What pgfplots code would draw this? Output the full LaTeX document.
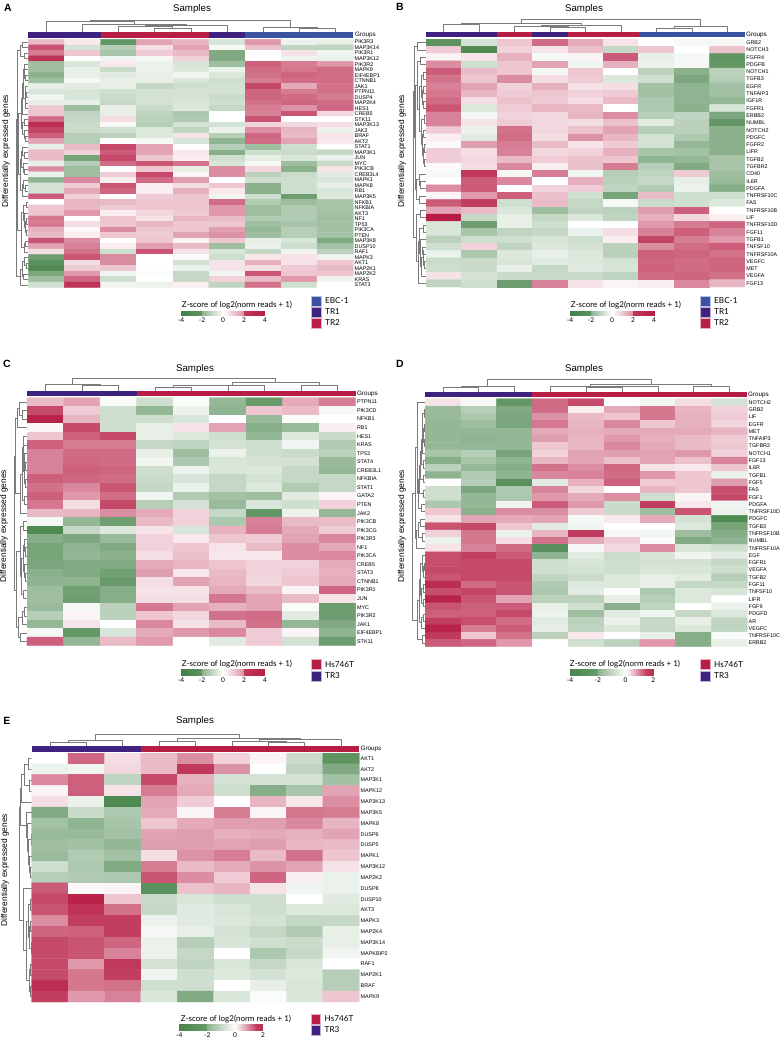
\documentclass[border=0pt]{standalone}
\usepackage{fontspec}
\usepackage{pgfplots}
\pgfplotsset{compat=1.18}
\setmainfont{Liberation Sans}
\newfontfamily\lato{Lato}
\definecolor{cebc}{RGB}{58,82,160}
\definecolor{ctra}{RGB}{63,33,128}
\definecolor{ctrb}{RGB}{184,30,69}
\pgfplotsset{
  colormap={zrg}{rgb255(0)=(61,125,64); rgb255(1)=(255,255,255); rgb255(2)=(183,28,68)},
  den/.style={color=black!52, line width=.45pt, no markers, sharp plot, line join=round},
}
\newcommand{\fs}[1]{\fontsize{#1}{#1}\selectfont}
% dendrogram links, x in column or row units, heights in reference pixels
\newcommand{\tk}[5]{\addplot[den, x filter/.expression={\xo+\cw*(x+.5)}] coordinates {(#1,#2)(#1,#5)(#3,#5)(#3,#4)};}
\newcommand{\lk}[5]{\addplot[den, y filter/.expression={\yo+\rh*(y+.5)}] coordinates {(#2,#1)(#5,#1)(#5,#3)(#4,#3)};}
\newcommand{\gbar}[5]{\addplot[fill=#5, draw=none] coordinates {(#1,#3)(#2,#3)(#2,#4)(#1,#4)} -- cycle;}
\newcommand{\swatch}[5]{\fill[#5, draw=#5!35!white, line width=.4pt] (axis cs:#1,#2) rectangle (axis cs:#3,#4);}
\newcommand{\txt}[4][]{\node[inner sep=0pt, #1] at (axis cs:#2,#3) {#4};}
% heatmap: x0 x1 y0 y1 rows names values
\newcommand{\heat}[7]{%
  \pgfmathsetmacro\hw{#2-#1}\pgfmathsetmacro\hh{#4-#3}\pgfmathsetmacro\lastt{#5-.5}%
  \begin{axis}[scale only axis, anchor=south west, at={(#1pt,-#4pt)}, width=\hw pt, height=\hh pt,
    xmin=0, xmax=9, ymin=0, ymax=#5, y dir=reverse, axis line style={draw=none},
    xtick=\empty, ytick={0.5,1.5,...,\lastt}, yticklabels={#6}, yticklabel pos=right,
    tick style={draw=none}, yticklabel style={font=\fs{5.4}, inner sep=0pt, xshift=1.2pt},
    point meta min=-4, point meta max=4]
  \addplot[matrix plot*, mesh/cols=9, point meta=explicit] table[header=false, row sep=crcr,
    x expr={\coordindex-9*floor((\coordindex+.5)/9)+.5}, y expr={floor((\coordindex+.5)/9)+.5}, meta index=0] {#7};
  \end{axis}}
% colour key: x0 x1 y0 y1 xmax ticks
\newcommand{\ckey}[6]{%
  \pgfmathsetmacro\hw{#2-#1}\pgfmathsetmacro\hh{#4-#3}%
  \begin{axis}[scale only axis, anchor=south west, at={(#1pt,-#4pt)}, width=\hw pt, height=\hh pt,
    xmin=-4, xmax=#5, ymin=0, ymax=1, axis line style={draw=none}, ytick=\empty,
    xtick={#6}, xticklabels={#6}, tick style={draw=none},
    xticklabel style={font=\lato\fs{6.6}, inner sep=0pt, yshift=-2.2pt},
    point meta min=-4, point meta max=4, view={0}{90}]
  \ifdim #5pt>3pt
  \addplot[surf, shader=interp, mesh/rows=2, point meta=explicit] table[row sep=crcr, meta index=2] {x y m\\-4 0 -3.9\\-2.02 0 -3.3\\-2 0 -2.4\\0 0 0\\2 0 2\\2.02 0 3.5\\4 0 4\\-4 1 -3.9\\-2.02 1 -3.3\\-2 1 -2.4\\0 1 0\\2 1 2\\2.02 1 3.5\\4 1 4\\};
  \else
  \addplot[surf, shader=interp, mesh/rows=2, point meta=explicit] table[row sep=crcr, meta index=2] {x y m\\-4 0 -3.8\\-2.05 0 -3.1\\-2 0 -2.4\\0 0 0\\1 0 2.2\\1.5 0 3.4\\2 0 3.7\\-4 1 -3.8\\-2.05 1 -3.1\\-2 1 -2.4\\0 1 0\\1 1 2.2\\1.5 1 3.4\\2 1 3.7\\};
  \fi
  \end{axis}}
\begin{document}
\begin{tikzpicture}
\path[use as bounding box] (0,0) rectangle (780pt,-1037pt);
\begin{axis}[scale only axis, anchor=south west, at={(0pt,-1037pt)}, width=780pt, height=1037pt,
  xmin=0, xmax=780, ymin=0, ymax=1037, y dir=reverse, hide axis, clip=false]
% panel A
\def\xo{28.3}\def\cw{36.1}\def\yo{39.3}\def\rh{5.52}
\gbar{28.3}{100.6}{32.3}{38.3}{ctra}\gbar{100.6}{208.9}{32.3}{38.3}{ctrb}\gbar{208.9}{245}{32.3}{38.3}{ctra}\gbar{245}{353.3}{32.3}{38.3}{cebc}
\tk{3}{32}{4}{32}{28.3}\tk{2}{32}{3.5}{28.3}{26}\tk{2.75}{26}{5}{32}{25.3}\tk{1}{32}{3.875}{25.3}{24}\tk{0}{32}{2.44}{24}{21.7}
\tk{7}{32}{8}{32}{28.3}\tk{6}{32}{7.5}{28.3}{27.3}\tk{1.22}{21.7}{6.75}{27.3}{20.7}
\lk{0}{28}{1}{28}{22.7}\lk{2}{28}{3}{28}{24.5}\lk{.5}{22.7}{2.5}{24.5}{20.7}
\lk{6}{28}{7}{28}{25}\lk{5}{28}{6.5}{25}{24.5}\lk{4}{28}{5.75}{24.5}{24}
\lk{9}{28}{10}{28}{26}\lk{8}{28}{9.5}{26}{25.5}\lk{11}{28}{12}{28}{25.5}\lk{8.75}{25.5}{11.5}{25.5}{25}
\lk{4.9}{24}{10.1}{25}{23}\lk{7.5}{23}{13}{28}{22.5}
\lk{14}{28}{15}{28}{24}\lk{17}{28}{18}{28}{25}\lk{16}{28}{17.5}{25}{24}\lk{14.5}{24}{16.75}{24}{22.5}
\lk{10.25}{22.5}{15.6}{22.5}{21}
\lk{20}{28}{21}{28}{24}\lk{19}{28}{20.5}{24}{22.5}\lk{23}{28}{24}{28}{24}\lk{22}{28}{23.5}{24}{23}\lk{19.75}{22.5}{22.75}{23}{21.5}
\lk{26}{28}{27}{28}{25}\lk{25}{28}{26.5}{25}{23}\lk{25.75}{23}{28}{28}{22}\lk{21.25}{21.5}{26.9}{22}{20}
\lk{12.9}{21}{24}{20}{18.5}
\lk{29}{28}{30}{28}{26}\lk{32}{28}{33}{28}{26}\lk{34}{28}{35}{28}{26}\lk{32.5}{26}{34.5}{26}{25}\lk{31}{28}{33.5}{25}{24.5}\lk{29.5}{26}{32.2}{24.5}{23.5}
\lk{36}{28}{37}{28}{25}\lk{36.5}{25}{38}{28}{24}\lk{30.9}{23.5}{37.2}{24}{21}\lk{18.5}{18.5}{34}{21}{17}
\lk{40}{28}{41}{28}{26}\lk{39}{28}{40.5}{26}{24.5}\lk{42}{28}{43}{28}{23.5}\lk{39.75}{24.5}{42.5}{23.5}{22}\lk{41.1}{22}{44}{28}{20}
\lk{1.5}{20.7}{26.3}{17}{17.3}\lk{13.9}{17.3}{42.5}{20}{16.3}
% panel B
\def\xo{426}\def\cw{35.44}\def\yo{39}\def\rh{7.29}
\gbar{426}{496.9}{31.7}{37.3}{ctra}\gbar{496.9}{532.3}{31.7}{37.3}{ctrb}\gbar{532.3}{567.8}{31.7}{37.3}{ctra}\gbar{567.8}{638.7}{31.7}{37.3}{ctrb}\gbar{638.7}{745}{31.7}{37.3}{cebc}
\tk{0}{31.5}{1}{31.5}{24.3}\tk{3}{31.5}{4}{31.5}{27.3}\tk{2}{31.5}{3.5}{27.3}{26.3}\tk{2.75}{26.3}{5}{31.5}{25.3}\tk{.5}{24.3}{3.875}{25.3}{23.3}
\tk{6}{31.5}{7}{31.5}{28}\tk{6.5}{28}{8}{31.5}{26.3}\tk{2.19}{23.3}{7.25}{26.3}{19.3}
\lk{0}{426}{1}{426}{417.3}\lk{2}{426}{3}{426}{420.7}\lk{4}{426}{5}{426}{423}\lk{6}{426}{7}{426}{423.5}\lk{8}{426}{9}{426}{423}\lk{6.5}{423.5}{8.5}{423}{422}\lk{4.5}{423}{7.5}{422}{421}
\lk{10}{426}{11}{426}{424}\lk{12}{426}{13}{426}{423.5}\lk{14}{426}{15}{426}{424}\lk{16}{426}{17}{426}{424}\lk{14.5}{424}{16.5}{424}{423}\lk{12.5}{423.5}{15.5}{423}{422}\lk{10.5}{424}{14}{422}{421}
\lk{6}{421}{12.2}{421}{419}\lk{2.5}{420.7}{9.1}{419}{417}\lk{19}{426}{20}{426}{420}\lk{18}{426}{19.5}{420}{419.5}\lk{21}{426}{22}{426}{419}\lk{18.75}{419.5}{21.5}{419}{416.5}
\lk{5.8}{417}{20.1}{416.5}{415.5}\lk{.5}{417.3}{13}{415.5}{414.3}
\lk{23}{426}{24}{426}{420}\lk{25}{426}{26}{426}{423}\lk{28}{426}{29}{426}{422}\lk{30}{426}{31}{426}{424}\lk{28.5}{422}{30.5}{424}{423}\lk{29.5}{423}{32}{426}{421.5}\lk{27}{426}{30.7}{421.5}{420}\lk{25.5}{423}{28.9}{420}{419}\lk{27.2}{419}{33}{426}{418}\lk{23.5}{420}{30}{418}{416}\lk{6.7}{414.3}{26.7}{416}{413.3}
% panel C
\def\xo{27}\def\cw{36.52}\def\yo{397.7}\def\rh{8.55}
\gbar{27}{136.6}{390.7}{396}{ctra}\gbar{136.6}{355.7}{390.7}{396}{ctrb}
\tk{3}{390.5}{4}{390.5}{387.3}\tk{3.5}{387.3}{5}{390.5}{385.7}\tk{4.25}{385.7}{6}{390.5}{385}\tk{7}{390.5}{8}{390.5}{385.7}\tk{5.125}{385}{7.5}{385.7}{382.3}
\tk{1}{390.5}{2}{390.5}{385}\tk{0}{390.5}{1.5}{385}{384}\tk{.75}{384}{6.31}{382.3}{378.3}
\lk{1}{27}{2}{27}{22}\lk{0}{27}{1.5}{22}{19.3}\lk{.75}{19.3}{3}{27}{17.7}
\lk{7}{27}{8}{27}{25}\lk{6}{27}{7.5}{25}{24.5}\lk{9}{27}{10}{27}{25}\lk{6.75}{24.5}{9.5}{25}{24}\lk{5}{27}{8.1}{24}{23.5}\lk{4}{27}{6.5}{23.5}{23}\lk{11}{27}{12}{27}{24.5}\lk{5.3}{23}{11.5}{24.5}{22}\lk{8.4}{22}{13}{27}{20}\lk{1.9}{17.7}{10.7}{20}{15}
\lk{14}{27}{15}{27}{23}\lk{17}{27}{18}{27}{25}\lk{16}{27}{17.5}{25}{24.5}\lk{20}{27}{21}{27}{25}\lk{19}{27}{20.5}{25}{24.5}\lk{16.75}{24.5}{19.75}{24.5}{23}\lk{22}{27}{23}{27}{23.5}\lk{18.25}{23}{22.5}{23.5}{21}\lk{14.5}{23}{20.4}{21}{20}
\lk{24}{27}{25}{27}{24}\lk{24.5}{24}{26}{27}{22}\lk{27}{27}{28}{27}{20}\lk{25.2}{22}{27.5}{20}{18.5}\lk{17.5}{20}{26.4}{18.5}{16}\lk{6.3}{15}{22}{16}{14.3}
% panel D
\def\xo{425}\def\cw{35.81}\def\yo{398.7}\def\rh{7.29}
\gbar{425}{532.4}{391.7}{397.3}{ctra}\gbar{532.4}{747.3}{391.7}{397.3}{ctrb}
\tk{0}{391.5}{1}{391.5}{387.7}\tk{.5}{387.7}{2}{391.5}{386.7}\tk{4}{391.5}{5}{391.5}{387.3}\tk{4.5}{387.3}{6}{391.5}{386.7}\tk{3}{391.5}{5.25}{386.7}{386}\tk{7}{391.5}{8}{391.5}{386.7}\tk{4.125}{386}{7.5}{386.7}{384.3}\tk{1.25}{386.7}{5.81}{384.3}{379.3}
\lk{1}{425}{2}{425}{424}\lk{3}{425}{4}{425}{424}\lk{5}{425}{6}{425}{424.3}\lk{3.5}{424}{5.5}{424.3}{423}\lk{1.5}{424}{4.5}{423}{422.5}\lk{3}{422.5}{7}{425}{422}\lk{8}{425}{9}{425}{423}\lk{5}{422}{8.5}{423}{421.5}\lk{10}{425}{11}{425}{423}\lk{6.7}{421.5}{10.5}{423}{420.5}\lk{12}{425}{13}{425}{423}\lk{8.6}{420.5}{12.5}{423}{419.5}\lk{14}{425}{15}{425}{421}\lk{10.5}{419.5}{14.5}{421}{418.5}\lk{0}{425}{12.5}{418.5}{417}
\lk{16}{425}{17}{425}{420}\lk{18}{425}{19}{425}{422}\lk{16.5}{420}{18.5}{422}{418}\lk{17.5}{418}{20}{425}{416}\lk{6.2}{417}{18.7}{416}{415}
\lk{22}{425}{23}{425}{424}\lk{22.5}{424}{24}{425}{423.5}\lk{21}{425}{23.2}{423.5}{422.5}\lk{25}{425}{26}{425}{423}\lk{27}{425}{28}{425}{423}\lk{25.5}{423}{27.5}{423}{421.5}\lk{22.1}{422.5}{26.5}{421.5}{420.5}\lk{29}{425}{30}{425}{423}\lk{29.5}{423}{31}{425}{421.5}\lk{24.3}{420.5}{30.2}{421.5}{419.5}\lk{32}{425}{33}{425}{422}\lk{27.2}{419.5}{32.5}{422}{417}\lk{12.4}{415}{29.9}{417}{412.7}
% panel E
\def\xo{31.7}\def\cw{36.4}\def\yo{753}\def\rh{10.83}
\gbar{31.7}{140.9}{746.3}{752}{ctra}\gbar{140.9}{359.3}{746.3}{752}{ctrb}
\tk{0}{746}{1}{746}{742.3}\tk{.5}{742.3}{2}{746}{740.7}\tk{3}{746}{4}{746}{741}\tk{6}{746}{7}{746}{742.3}\tk{5}{746}{6.5}{742.3}{741.7}\tk{5.75}{741.7}{8}{746}{739.3}\tk{3.5}{741}{6.875}{739.3}{738.3}\tk{1.25}{740.7}{5.19}{738.3}{734.3}
\lk{0}{31.5}{1}{31.5}{28.3}\lk{2}{31.5}{3}{31.5}{29.3}\lk{.5}{28.3}{2.5}{29.3}{24}\lk{1.5}{24}{4}{31.5}{21}
\lk{7}{31.5}{8}{31.5}{31}\lk{10}{31.5}{11}{31.5}{30}\lk{9}{31.5}{10.5}{30}{29.5}\lk{7.5}{31}{9.75}{29.5}{28}\lk{6}{31.5}{8.6}{28}{27}\lk{5}{31.5}{7.3}{27}{26.5}\lk{2.75}{21}{6.2}{26.5}{20}
\lk{13}{31.5}{14}{31.5}{30}\lk{15}{31.5}{16}{31.5}{30}\lk{17}{31.5}{18}{31.5}{31}\lk{15.5}{30}{17.5}{31}{29}\lk{13.5}{30}{16.5}{29}{28}\lk{19}{31.5}{20}{31.5}{30.5}\lk{21}{31.5}{22}{31.5}{30}\lk{19.5}{30.5}{21.5}{30}{29}\lk{15}{28}{20.5}{29}{26.5}\lk{12}{31.5}{17.7}{26.5}{23.5}\lk{4.5}{20}{14.9}{23.5}{19.3}
% texts
\txt[font=\bfseries\fs{10.5}]{8}{8}{A}\txt[font=\bfseries\fs{10.5}]{400}{7}{B}\txt[font=\bfseries\fs{10.5}]{7}{364}{C}\txt[font=\bfseries\fs{10.5}]{400}{364}{D}\txt[font=\bfseries\fs{10.5}]{7}{721}{E}
\txt[font=\fs{9.7}]{192}{9}{Samples}\txt[font=\fs{9.7}]{584}{9}{Samples}\txt[font=\fs{9.7}]{195}{369}{Samples}\txt[font=\fs{9.7}]{584}{369}{Samples}\txt[font=\fs{9.7}]{195}{721}{Samples}
\txt[font=\fs{8.4}, rotate=90]{6}{151}{Differentially expressed genes}\txt[font=\fs{8.4}, rotate=90]{402}{151}{Differentially expressed genes}
\txt[font=\fs{8.4}, rotate=90]{4}{526}{Differentially expressed genes}\txt[font=\fs{8.4}, rotate=90]{402}{526}{Differentially expressed genes}\txt[font=\fs{8.4}, rotate=90]{5}{870}{Differentially expressed genes}
\txt[font=\fs{6.3}, anchor=west]{354.8}{35.3}{Groups}\txt[font=\fs{6.3}, anchor=west]{746}{34.5}{Groups}\txt[font=\fs{6.3}, anchor=west]{356.8}{393.5}{Groups}\txt[font=\fs{6.3}, anchor=west]{748}{394.5}{Groups}\txt[font=\fs{6.3}, anchor=west]{360.5}{749.3}{Groups}
\txt[font=\lato\fs{8}]{237}{305}{Z-score of log2(norm reads + 1)}\txt[font=\lato\fs{8}]{626}{305}{Z-score of log2(norm reads + 1)}
\txt[font=\lato\fs{8}]{237}{664}{Z-score of log2(norm reads + 1)}\txt[font=\lato\fs{8}]{625}{664}{Z-score of log2(norm reads + 1)}\txt[font=\lato\fs{8}]{236}{1019}{Z-score of log2(norm reads + 1)}
% group legends
\swatch{311}{296}{320.7}{305.7}{cebc}\swatch{311}{307}{320.7}{316.7}{ctra}\swatch{311}{318.3}{320.7}{328}{ctrb}
\txt[font=\lato\fs{8.2}, anchor=west]{325}{300.8}{EBC-1}\txt[font=\lato\fs{8.2}, anchor=west]{325}{311.8}{TR1}\txt[font=\lato\fs{8.2}, anchor=west]{325}{323}{TR2}
\swatch{700}{296}{710}{305.7}{cebc}\swatch{700}{307}{710}{316.7}{ctra}\swatch{700}{318.3}{710}{328}{ctrb}
\txt[font=\lato\fs{8.2}, anchor=west]{714}{300.8}{EBC-1}\txt[font=\lato\fs{8.2}, anchor=west]{714}{311.8}{TR1}\txt[font=\lato\fs{8.2}, anchor=west]{714}{323}{TR2}
\swatch{311}{659.3}{321}{669}{ctrb}\swatch{311}{671}{321}{681}{ctra}
\txt[font=\lato\fs{8.2}, anchor=west]{325}{664.2}{Hs746T}\txt[font=\lato\fs{8.2}, anchor=west]{325}{676}{TR3}
\swatch{700}{659.3}{710}{669}{ctrb}\swatch{700}{671}{710}{681}{ctra}
\txt[font=\lato\fs{8.2}, anchor=west]{714}{664.2}{Hs746T}\txt[font=\lato\fs{8.2}, anchor=west]{714}{676}{TR3}
\swatch{310.7}{1014}{320.5}{1024}{ctrb}\swatch{310.7}{1025}{320.5}{1035}{ctra}
\txt[font=\lato\fs{8.2}, anchor=west]{324.5}{1019}{Hs746T}\txt[font=\lato\fs{8.2}, anchor=west]{324.5}{1030}{TR3}
\end{axis}
\heat{28.3}{353.3}{39.3}{287.7}{45}{PIK3R3,MAP3K14,PIK3R1,MAP3K12,PIK3R2,MAPK9,EIF4EBP1,CTNNB1,JAK1,PTPN11,DUSP4,MAP2K4,HES1,CREB5,STK11,MAP3K13,JAK2,BRAF,AKT2,STAT1,MAP3K1,JUN,MYC,PIK3CB,CREB3L4,MAPK1,MAPK8,RB1,MAP3K5,NFKB1,NFKBIA,AKT3,NF1,TP53,PIK3CA,PTEN,MAP3K8,DUSP10,RAF1,MAPK3,AKT1,MAP2K1,MAP2K2,KRAS,STAT3}{%
1.2\\.4\\-3.2\\1.6\\1.3\\-.8\\1.8\\-.4\\-.5\\%
3\\-.9\\-1.5\\.6\\1.6\\-.2\\1.1\\-1.3\\-1.3\\%
2.3\\1\\-1.8\\.9\\1.2\\-2.6\\.05\\.5\\-.3\\%
3.6\\0\\-.3\\-.2\\.8\\-2.6\\0\\-.3\\-.4\\%
-2\\-.8\\.4\\-.4\\-.8\\-2\\2.8\\2.3\\1.8\\%
-2\\-.5\\-1.1\\-.4\\-.7\\-.4\\2.6\\2.4\\2.6\\%
-2.4\\-.5\\-.6\\-.5\\-.3\\-.7\\2.5\\2.7\\2.6\\%
-2\\-.2\\-.5\\-.5\\-.8\\-1\\2.3\\2.6\\2.6\\%
-.5\\-.6\\-.5\\-1.2\\-1\\-.9\\3.2\\1.5\\2.5\\%
-.8\\-.8\\-1\\-.9\\-.9\\-.9\\2.7\\2.3\\2.5\\%
-.3\\-.8\\-1.1\\-.9\\-.9\\-1.1\\2.7\\2.6\\2.3\\%
-.5\\-.5\\-1.2\\-.9\\-.8\\-1\\2.5\\2.7\\2.6\\%
1\\-2\\-.5\\-1.1\\-.7\\-1.2\\2.3\\1.9\\2.7\\%
1\\-1.3\\-.5\\-1.3\\-1.7\\0\\2.2\\3\\.7\\%
2.6\\-1.2\\.6\\-1.4\\-1.6\\0\\3\\0\\0\\%
3.7\\-1.1\\-.2\\-1.5\\-.9\\-.9\\.8\\.7\\.6\\%
3.3\\-1.1\\-1\\-.7\\-1.3\\-.4\\2\\1.3\\-.4\\%
2.8\\-1.5\\-1.4\\-.7\\.5\\-1.5\\2.7\\1.2\\.5\\%
1.6\\-1.5\\0\\-.2\\-.8\\-2.3\\2.6\\1.6\\.4\\%
-.5\\1.2\\3.2\\1.6\\.05\\-1.5\\-2\\-1\\0\\%
1.2\\.8\\2.9\\1.6\\.4\\-2.5\\-1\\-1.1\\-1.2\\%
1.2\\-2.8\\3.2\\1\\.3\\-1\\-.5\\-.8\\-.4\\%
-.5\\-1.5\\2.6\\3\\2.5\\-.8\\-.2\\-2\\-1.1\\%
2\\-2\\0\\1\\-.5\\2\\.7\\-2.4\\.5\\%
-.4\\-2\\.9\\3.2\\.2\\2\\-1.4\\-1.1\\-.6\\%
-2.3\\2.1\\.3\\2.6\\1.7\\0\\-1\\-1\\-.8\\%
-.9\\.9\\3\\.3\\.6\\1\\-2.4\\-1\\-.5\\%
-.9\\1.5\\2.7\\.3\\1.4\\.4\\-2.4\\-1\\-.8\\%
2.9\\.8\\.05\\.9\\1\\-.3\\-1\\-3\\-.7\\%
0\\1.3\\1.2\\1\\1\\2.6\\-1.6\\-2\\-1.8\\%
1\\1.3\\.9\\1\\1\\1.8\\-2\\-1.6\\-1.8\\%
1\\1.8\\.3\\.7\\.9\\1.8\\-2\\-1.6\\-1.9\\%
2.4\\0\\1\\.5\\1.3\\1.2\\-1.6\\-1.6\\-2\\%
2.4\\.6\\1\\1.3\\1\\1\\-2\\-1.8\\-1.9\\%
1.4\\.1\\2\\1\\1\\1.7\\-2.2\\-1.5\\-1.9\\%
1.2\\.3\\1\\.9\\1.6\\1.9\\-2\\-1.5\\-1.9\\%
3\\2\\0\\1\\.2\\1\\-.5\\-.8\\-2.6\\%
1.6\\2.2\\.3\\1.7\\1.2\\-2\\-.4\\-1\\-1.9\\%
.6\\2.5\\-1\\3\\.5\\-.8\\-1.2\\-.3\\-1.4\\%
-3\\3\\2\\0\\-.1\\-1\\.4\\.5\\-.3\\%
-3.4\\.6\\2\\0\\-.9\\.5\\1.4\\.5\\1\\%
-3.6\\.9\\1\\0\\-.4\\.5\\.6\\.9\\1.2\\%
-2.7\\1.8\\-.3\\-.1\\-1.2\\-.3\\3\\1\\1\\%
-2\\2.7\\-1\\0\\-1.2\\.8\\1.2\\1.8\\-.3\\%
-1\\3.6\\-.3\\-.4\\.3\\-1.3\\2.5\\-1\\0\\%
}
\heat{426}{745}{39}{287}{34}{GRB2,NOTCH3,FGFR4,PDGFB,NOTCH1,TGFB3,EGFR,TNFAIP3,IGF1R,FGFR1,ERBB2,NUMBL,NOTCH2,PDGFC,FGFR2,LIFR,TGFB2,TGFBR2,CD40,IL6R,PDGFA,TNFRSF10C,FAS,TNFRSF10B,LIF,TNFRSF10D,FGF11,TGFB1,TNFSF10,TNFRSF10A,VEGFC,MET,VEGFA,FGF13}{%
-3.3\\-.9\\1\\2.6\\1.5\\.5\\0\\-.2\\-.2\\%
.9\\-3.6\\.8\\.5\\1.1\\-1.2\\1\\0\\1.1\\%
.2\\.5\\1.4\\-.2\\.2\\2.9\\-.5\\-.2\\-3.3\\%
2\\-1\\1\\1.6\\-.3\\1.4\\-.4\\-.2\\-3.2\\%
2.9\\1.2\\1\\-.2\\1\\0\\-1.4\\-2.4\\-1.4\\%
2.5\\1\\2\\.6\\.9\\-.7\\-1\\-2.7\\-1.5\\%
2.2\\1.6\\.8\\1.4\\.5\\.6\\-1.9\\-2.3\\-1.9\\%
2.4\\1.3\\.9\\1\\.8\\.9\\-1.9\\-2.3\\-1.9\\%
2.6\\.6\\1.1\\.9\\.6\\1.2\\-1.7\\-2.3\\-2.2\\%
3\\-.7\\.9\\1.3\\1.2\\0\\-1.7\\-2.4\\-.8\\%
2.2\\-.2\\.8\\.7\\1.3\\2\\-1.5\\-1.3\\-2.7\\%
2.2\\.5\\.9\\.7\\.6\\1.1\\-.6\\-1.4\\-3.2\\%
.9\\-.4\\2.5\\.7\\1.1\\1.6\\-1.5\\-1.4\\-2.4\\%
.3\\-.6\\2.6\\.6\\1.9\\1.3\\-.9\\-1.7\\-2.4\\%
.1\\1.7\\2.3\\1.2\\.5\\.9\\-.9\\-2.2\\-2.4\\%
.9\\.6\\2.2\\.7\\.8\\1.4\\-1.8\\-1.9\\-2.4\\%
.9\\.7\\1.2\\.9\\1.1\\1\\-2.3\\-2.2\\-1.8\\%
.1\\.6\\2.1\\.3\\1.1\\2.3\\-1.5\\-2.6\\-1.8\\%
-.2\\3.5\\-.2\\2.3\\-.3\\-1.5\\-1.3\\.9\\-2\\%
0\\2.9\\2.1\\0\\1.4\\-1.4\\-1.2\\-.5\\-2.1\\%
2\\2.9\\0\\.8\\.9\\-1.3\\-1.6\\-.4\\-2.5\\%
.2\\1.8\\2.8\\1.1\\-1\\-2.8\\1.2\\-1\\-1\\%
2.9\\3.4\\-1\\1.2\\-1.2\\-.2\\-1.1\\-1\\-.7\\%
1.6\\1.2\\-.8\\-2\\-1.3\\-1.4\\1.7\\2.8\\0\\%
4\\-1.2\\-.5\\-1.2\\-.7\\-1.3\\1.4\\.7\\.3\\%
-.8\\-3\\-.5\\-1\\0\\0\\1.8\\2.3\\2.7\\%
-.8\\-1.8\\-1.3\\-1.2\\-.4\\.6\\2.2\\2.8\\2.2\\%
-1.4\\-1\\-1\\-.8\\-1\\.3\\3.3\\2.3\\1.8\\%
-1\\.8\\-1.3\\-.7\\-.9\\-1.4\\2\\2.6\\2.9\\%
-.4\\-1.7\\-.7\\-.5\\-.7\\-1.4\\2.8\\2.7\\2.5\\%
-1.1\\-1.1\\-.8\\-.6\\-.7\\-.9\\2.7\\2.6\\2.7\\%
-1\\-1.1\\-.5\\-1.2\\-.6\\-.8\\2.8\\2.6\\2.7\\%
.5\\-.9\\-1.1\\-1.1\\-1.1\\-1.3\\2.6\\2.7\\2.5\\%
-1.3\\-1\\-3\\2.2\\.5\\.2\\.3\\2.1\\1.3\\%
}
\heat{27}{355.7}{397.7}{645.7}{29}{PTPN11,PIK3CD,NFKB1,RB1,HES1,KRAS,TP53,STAT4,CREB3L1,NFKBIA,STAT1,GATA2,PTEN,JAK2,PIK3CB,PIK3CG,PIK3R3,NF1,PIK3CA,CREB5,STAT3,CTNNB1,PIK3R1,JUN,MYC,PIK3R2,JAK1,EIF4EBP1,STK11}{%
1.2\\1.6\\-.1\\-1\\-.1\\-2.2\\-3.1\\1.5\\2.3\\%
3.2\\.9\\-1\\-2.2\\-.4\\-2.3\\1\\1.2\\-.2\\%
3.9\\1.3\\-1\\-1\\-.8\\0\\-2.1\\-.1\\0\\%
.2\\3.2\\-1\\-.5\\.5\\1.6\\-2.5\\-2.1\\.3\\%
1\\2.8\\3.2\\-.5\\-.7\\-1\\-2.2\\-.7\\-1.1\\%
2.8\\2.3\\2.3\\-1.2\\-1.3\\-.9\\-1\\-.3\\-1.6\\%
2.2\\2.6\\2.6\\-.5\\-2\\-.4\\-1\\-1.1\\-1.4\\%
2.2\\2.7\\2.6\\-.3\\-1.7\\-.8\\-.9\\-.9\\-2.1\\%
2.2\\2.8\\2.7\\-1\\-.4\\-.8\\-.7\\-1.2\\-2.2\\%
2.8\\2.7\\2.6\\-1.1\\-.8\\-1.2\\-.9\\-1.2\\-1.2\\%
2.5\\2.1\\3\\-1.2\\-.4\\-1.2\\-.7\\-1.6\\-1.2\\%
2.8\\1.8\\2.6\\-.3\\-1.6\\-1.9\\-2\\-.6\\.2\\%
2.4\\.6\\3.2\\-1.5\\-.9\\-2.1\\-.8\\-1\\.8\\%
1.2\\1.3\\2\\1.5\\.8\\-1.2\\-3.2\\-.4\\-2.2\\%
-.2\\-2.2\\-3\\1.2\\.8\\-1.7\\2.2\\1.2\\1.2\\%
-3.6\\-1.2\\-.7\\.5\\-.8\\1.4\\2.3\\1.5\\.9\\%
-2.5\\-2.7\\-2.1\\.8\\.4\\1\\.9\\1.6\\2.1\\%
-2.8\\-2.3\\-2.6\\.8\\1\\.5\\1.2\\2\\1.5\\%
-2.8\\-2.2\\-2.4\\.6\\1.1\\.4\\.4\\2\\2.1\\%
-2.7\\-2.6\\-2.6\\1.5\\1.3\\1\\.8\\.8\\1.5\\%
-2.4\\-2.6\\-2.9\\1.7\\.4\\1.2\\.8\\.9\\1.4\\%
-2.3\\-2.3\\-3.1\\.6\\1.6\\1.3\\.7\\1\\1.5\\%
-2\\-2.9\\-2.5\\.5\\.5\\1.5\\1.2\\.2\\2.7\\%
-2\\-3\\-2.5\\.6\\.6\\2.4\\1.6\\1.2\\.5\\%
-2.1\\-.2\\-1.4\\2.4\\1.6\\1.4\\1.6\\-.1\\-3\\%
-1.5\\.2\\-1.4\\1\\.7\\2.5\\2.6\\-.6\\-3\\%
-2.2\\.5\\0\\2.1\\.5\\1.2\\2.5\\-2.2\\-2.6\\%
-.2\\-3.2\\-.8\\1.5\\1.8\\2.1\\.9\\.2\\-2.3\\%
2.8\\-2.2\\1.2\\1.8\\0\\-.6\\.9\\-.9\\-3\\%
}
\heat{425}{747.3}{398.7}{646.7}{34}{NOTCH2,GRB2,LIF,EGFR,MET,TNFAIP3,TGFBR2,NOTCH1,FGF13,IL6R,TGFB1,FGF5,FAS,FGF1,PDGFA,TNFRSF10D,PDGFC,TGFB3,TNFRSF10B,NUMBL,TNFRSF10A,EGF,FGFR1,VEGFA,TGFB2,FGF11,TNFSF10,LIFR,FGF9,PDGFD,AR,VEGFC,TNFRSF10C,ERBB2}{%
.5\\-.2\\-3.2\\2.6\\3.2\\0\\-.3\\.6\\-.9\\%
-2.1\\-1.5\\-2.6\\2.6\\.3\\1.5\\2.4\\1.3\\.8\\%
-2.1\\-1.7\\-2.7\\1.9\\1.2\\1\\2.4\\1.4\\.9\\%
-2.2\\-2\\-2.7\\2.4\\1.3\\2.1\\1\\1.4\\.7\\%
-2.2\\-2.2\\-2.2\\1.5\\1.4\\1.5\\1.5\\1.5\\1.3\\%
-2.2\\-2.3\\-2.2\\1.7\\1.3\\1.8\\1.4\\1.2\\.9\\%
-2.2\\-2.2\\-2.2\\1\\1.3\\2.1\\1.5\\1.2\\1\\%
-1.8\\-1.5\\-2.8\\.8\\1.6\\1.7\\1.6\\1.8\\.8\\%
-2.5\\-1.8\\-2.3\\1.3\\1.6\\1.1\\1.6\\1.1\\2.2\\%
-1.4\\-2.2\\-2.5\\2.5\\2\\2.7\\.5\\.4\\1\\%
-2.3\\-1.6\\-2.3\\2.1\\2.2\\2.6\\1.8\\1\\-.4\\%
0\\-1.5\\-3.4\\-.6\\1.4\\2.8\\.9\\1\\1.7\\%
-1\\-2.7\\-1.7\\2.2\\.7\\0\\1.3\\1\\3.1\\%
-1\\-2.2\\-1.7\\1.8\\1.5\\2\\-1\\.2\\3.2\\%
-1.7\\-2.2\\-.3\\2.9\\1.8\\-1.1\\3.4\\.4\\-.3\\%
1\\-2.4\\2\\2\\.9\\-1.1\\-2\\3\\-.4\\%
.5\\1.6\\1.5\\1.6\\-.2\\.4\\1.5\\-.9\\-3.6\\%
3\\3.2\\1\\-.6\\-.3\\0\\0\\-.7\\-2.8\\%
.8\\2.4\\-.4\\1.3\\3.5\\-.2\\-.3\\-2\\-2.5\\%
-.4\\2.4\\.6\\2.5\\1.5\\.9\\-.1\\-2.6\\-2.3\\%
.5\\2.2\\2.6\\-3.4\\-.2\\.7\\2\\-.8\\-1\\%
3.1\\3.4\\2.9\\-2.3\\-.6\\-1.1\\-.8\\-.3\\-.6\\%
3.1\\3.2\\3.2\\-1\\-.8\\-1\\-.9\\-.9\\-1.2\\%
3.2\\3.2\\3.2\\-1\\-.9\\-1\\-.8\\-.8\\-1\\%
3\\3.2\\3.2\\-1.3\\-1.1\\-.7\\-.5\\-.6\\-1.5\\%
3.7\\2.6\\3\\-1.6\\-.7\\-.7\\-.5\\-1.2\\-1.2\\%
3.1\\3.3\\3\\-1.7\\-.6\\-.1\\-1.7\\-.7\\-.8\\%
3.9\\3\\1.6\\-1.4\\-1.4\\-.5\\-1.5\\-.7\\0\\%
3\\2.8\\2.9\\-.5\\-1\\-2.4\\-1.3\\0\\-.4\\%
2.8\\2.8\\3.2\\-.4\\-2\\-.6\\-.3\\-1.2\\-.7\\%
3.4\\3.1\\2.6\\-.6\\-1.4\\-.4\\-1.2\\-.5\\-1.3\\%
3.9\\2.3\\2.9\\-.5\\-1.3\\-.7\\-1.2\\-.7\\-1.3\\%
3.5\\1\\2.5\\-1.4\\.4\\0\\-.5\\-2.5\\-.1\\%
2.9\\2.7\\1.8\\0\\-1\\-1.4\\1.8\\-2.5\\-.5\\%
}
\heat{31.7}{359.3}{753}{1002}{23}{AKT1,AKT2,MAP3K1,MAPK12,MAP3K13,MAP3K5,MAPK8,DUSP6,DUSP5,MAPK1,MAP3K12,MAP2K2,DUSP8,DUSP10,AKT3,MAPK3,MAP2K4,MAP3K14,MAPKBIP2,RAF1,MAP2K1,BRAF,MAPK9}{%
0\\2.7\\.6\\1.2\\2\\.8\\.2\\-1.1\\-3.3\\%
-.4\\-.3\\.7\\1.2\\3.5\\1.9\\0\\-1.3\\-2.6\\%
2.1\\2.8\\-1.3\\3.2\\1.4\\-.9\\-.9\\-.9\\-1.9\\%
.2\\2.8\\.5\\2.3\\1.5\\-1\\-2.5\\-1.8\\1.6\\%
.6\\-.4\\-3.6\\1.6\\.9\\0\\1.3\\.4\\2\\%
-2.6\\-1.1\\-1.7\\1.5\\.2\\2.3\\.2\\2.4\\2.3\\%
-1.9\\-2.3\\-1.8\\1\\1.5\\1.7\\1.7\\2.1\\1.3\\%
-2.1\\-2.1\\-1.9\\1.6\\1.7\\1.4\\1.5\\1.4\\1.6\\%
-2\\-1.9\\-2.2\\1.7\\1.7\\1.6\\1.7\\1.3\\1.2\\%
-2.1\\-1.6\\-1.9\\.6\\1.9\\2.3\\1.2\\2.5\\1\\%
-1\\-1.7\\-2.6\\2.3\\1.2\\1.5\\1.9\\1.6\\.5\\%
-1.5\\-1.6\\-1.7\\3\\2\\.9\\2.7\\.3\\-.4\\%
2.9\\.1\\.2\\-3.4\\1.1\\1.3\\.5\\-.3\\-.4\\%
3.2\\3.9\\1\\-1.1\\-.8\\-1\\-1\\0\\-.6\\%
3\\3.6\\2.5\\-1.2\\-.6\\-.8\\-1\\-.7\\-.7\\%
2\\3.4\\3.4\\-.4\\-.6\\-.7\\-.9\\-1.2\\-1.2\\%
2.7\\2.8\\3.4\\-.2\\-.5\\-.9\\-1.2\\-1.6\\-.5\\%
3.2\\3\\2.7\\-.4\\-1.5\\-.8\\-1\\-1.1\\-.5\\%
3.2\\3\\2.2\\-.4\\-1.2\\0\\-1.7\\-1.2\\-.3\\%
3.2\\1.8\\3.5\\-.9\\-1.3\\-.8\\-1.2\\-.8\\0\\%
3.2\\2.4\\3.4\\-.3\\-1\\-.7\\-.9\\-.7\\-1.5\\%
3.7\\2.4\\2.5\\-1\\-1\\0\\-.5\\-.8\\-1.5\\%
3.4\\1.8\\2.2\\-.8\\-2.6\\-.8\\-.1\\-.8\\1\\%
}
\ckey{181}{265}{310.7}{315.7}{4}{-4,-2,0,2,4}
\ckey{570}{654}{310.7}{315.7}{4}{-4,-2,0,2,4}
\ckey{181}{265}{669}{675}{4}{-4,-2,0,2,4}
\ckey{570}{653.3}{669}{675}{2}{-4,-2,0,2}
\ckey{179.3}{263}{1024}{1030}{2}{-4,-2,0,2}
\end{tikzpicture}
\end{document}
